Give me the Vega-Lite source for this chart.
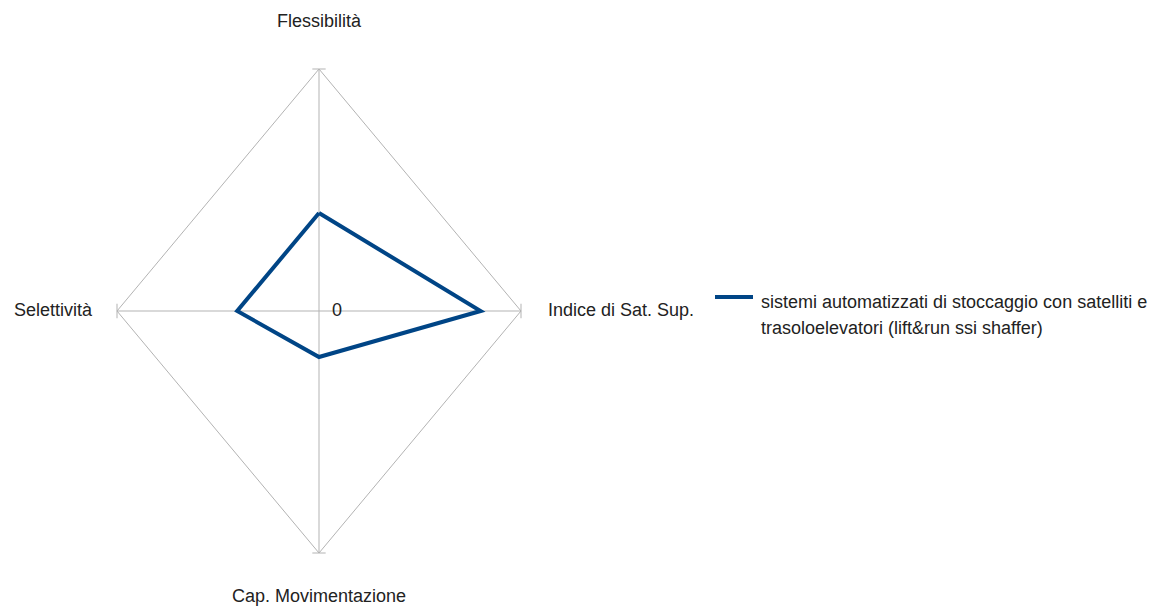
{
  "$schema": "https://vega.github.io/schema/vega-lite/v6.json",
  "width": 404,
  "height": 484,
  "autosize": {"type": "none"},
  "padding": {"left": 117, "top": 69, "right": 649, "bottom": 54},
  "background": "white",
  "config": {"view": {"stroke": null}, "font": "Liberation Sans"},
  "datasets": {
    "series": [
      {"cat": "Flessibilità", "o": 1, "x": 0, "y": 0.405, "s": "sistemi automatizzati di stoccaggio con satelliti e trasoloelevatori (lift&run ssi shaffer)"},
      {"cat": "Indice di Sat. Sup.", "o": 2, "x": 0.80, "y": 0, "s": "sistemi automatizzati di stoccaggio con satelliti e trasoloelevatori (lift&run ssi shaffer)"},
      {"cat": "Cap. Movimentazione", "o": 3, "x": 0, "y": -0.19, "s": "sistemi automatizzati di stoccaggio con satelliti e trasoloelevatori (lift&run ssi shaffer)"},
      {"cat": "Selettività", "o": 4, "x": -0.405, "y": 0, "s": "sistemi automatizzati di stoccaggio con satelliti e trasoloelevatori (lift&run ssi shaffer)"},
      {"cat": "Flessibilità", "o": 5, "x": 0, "y": 0.405, "s": "sistemi automatizzati di stoccaggio con satelliti e trasoloelevatori (lift&run ssi shaffer)"}
    ],
    "grid": [
      {"o": 1, "x": 0, "y": 1},
      {"o": 2, "x": 1, "y": 0},
      {"o": 3, "x": 0, "y": -1},
      {"o": 4, "x": -1, "y": 0},
      {"o": 5, "x": 0, "y": 1}
    ],
    "spokes": [
      {"x": 0, "y": 0, "x2": 0, "y2": 1},
      {"x": 0, "y": 0, "x2": 1, "y2": 0},
      {"x": 0, "y": 0, "x2": 0, "y2": -1},
      {"x": 0, "y": 0, "x2": -1, "y2": 0},
      {"x": -0.033, "y": 1, "x2": 0.033, "y2": 1},
      {"x": -0.033, "y": -1, "x2": 0.033, "y2": -1},
      {"x": 1, "y": -0.03, "x2": 1, "y2": 0.03},
      {"x": -1, "y": -0.03, "x2": -1, "y2": 0.03}
    ]
  },
  "layer": [
    {
      "data": {"name": "grid"},
      "mark": {"type": "line", "color": "#b3b3b3", "strokeWidth": 1},
      "encoding": {
        "x": {"field": "x", "type": "quantitative", "scale": {"domain": [-1, 1]}, "axis": null},
        "y": {"field": "y", "type": "quantitative", "scale": {"domain": [-1, 1]}, "axis": null},
        "order": {"field": "o"}
      }
    },
    {
      "data": {"name": "spokes"},
      "mark": {"type": "rule", "color": "#b3b3b3", "strokeWidth": 1},
      "encoding": {
        "x": {"field": "x", "type": "quantitative"},
        "y": {"field": "y", "type": "quantitative"},
        "x2": {"field": "x2"},
        "y2": {"field": "y2"}
      }
    },
    {
      "data": {"name": "series"},
      "mark": {"type": "line", "strokeWidth": 4, "strokeJoin": "miter"},
      "encoding": {
        "x": {"field": "x", "type": "quantitative"},
        "y": {"field": "y", "type": "quantitative"},
        "order": {"field": "o"},
        "color": {
          "field": "s", "type": "nominal",
          "scale": {"range": ["#004586"]},
          "legend": {
            "title": null,
            "orient": "none",
            "legendX": 596,
            "legendY": 207,
            "padding": 0,
            "symbolType": "stroke",
            "symbolSize": 1444,
            "symbolStrokeWidth": 4,
            "labelFontSize": 18,
            "labelColor": "#222222",
            "labelFont": "Liberation Sans",
            "labelLimit": 600,
            "labelOffset": 6,
            "labelBaseline": "top",
            "labelExpr": "[slice(datum.label, 0, 51), slice(datum.label, 52)]",
            "encode": {"labels": {"update": {"lineHeight": {"value": 26}, "dy": {"value": -3}}}}
          }
        }
      }
    },
    {
      "data": {"values": [{"x": 0, "y": 0, "t": "0"}]},
      "mark": {"type": "text", "fontSize": 18, "color": "#222222", "dx": 18, "align": "center", "baseline": "middle"},
      "encoding": {"x": {"field": "x", "type": "quantitative"}, "y": {"field": "y", "type": "quantitative"}, "text": {"field": "t"}}
    },
    {
      "data": {"values": [{"x": 0, "y": 1, "t": "Flessibilità"}]},
      "mark": {"type": "text", "fontSize": 18, "color": "#222222", "dy": -47, "align": "center", "baseline": "middle"},
      "encoding": {"x": {"field": "x", "type": "quantitative"}, "y": {"field": "y", "type": "quantitative"}, "text": {"field": "t"}}
    },
    {
      "data": {"values": [{"x": 1, "y": 0, "t": "Indice di Sat. Sup."}]},
      "mark": {"type": "text", "fontSize": 18, "color": "#222222", "dx": 27, "align": "left", "baseline": "middle"},
      "encoding": {"x": {"field": "x", "type": "quantitative"}, "y": {"field": "y", "type": "quantitative"}, "text": {"field": "t"}}
    },
    {
      "data": {"values": [{"x": 0, "y": -1, "t": "Cap. Movimentazione"}]},
      "mark": {"type": "text", "fontSize": 18, "color": "#222222", "dy": 44, "align": "center", "baseline": "middle"},
      "encoding": {"x": {"field": "x", "type": "quantitative"}, "y": {"field": "y", "type": "quantitative"}, "text": {"field": "t"}}
    },
    {
      "data": {"values": [{"x": -1, "y": 0, "t": "Selettività"}]},
      "mark": {"type": "text", "fontSize": 18, "color": "#222222", "dx": -25, "align": "right", "baseline": "middle"},
      "encoding": {"x": {"field": "x", "type": "quantitative"}, "y": {"field": "y", "type": "quantitative"}, "text": {"field": "t"}}
    }
  ]
}
